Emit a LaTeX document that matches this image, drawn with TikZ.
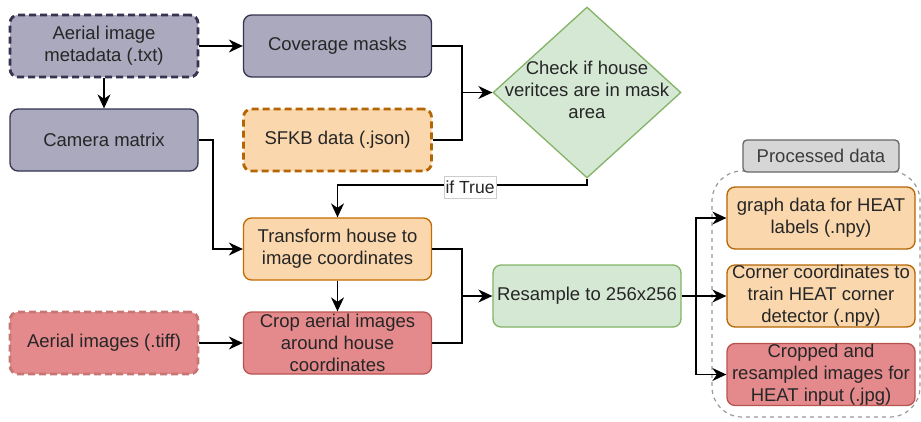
\documentclass[tikz,border=0pt]{standalone}
\usepackage{fontspec}
\setmainfont{Liberation Sans}
\usetikzlibrary{shapes.geometric,arrows.meta}
\definecolor{purfill}{HTML}{AAA9BE}
\definecolor{purdraw}{HTML}{35334F}
\definecolor{orfill}{HTML}{FAD7AC}
\definecolor{ordraw}{HTML}{B46504}
\definecolor{redfill}{HTML}{E48A8C}
\definecolor{reddraw}{HTML}{B85450}
\definecolor{grfill}{HTML}{D5E8D4}
\definecolor{grdraw}{HTML}{82B366}
\definecolor{txtcol}{HTML}{262626}
\begin{document}
\begin{tikzpicture}[x=1pt,y=-1pt,
  every node/.style={font=\fontsize{18.5}{22}\selectfont, text=txtcol},
  box/.style={rectangle, rounded corners=8, minimum width=188, minimum height=62, inner sep=0, align=center, line width=1.3},
  pur/.style={box, fill=purfill, draw=purdraw},
  org/.style={box, fill=orfill, draw=ordraw},
  rd/.style={box, fill=redfill, draw=reddraw},
  grn/.style={box, fill=grfill, draw=grdraw},
  dsh/.style={line width=2.8, dash pattern=on 7pt off 4pt},
  arr/.style={line width=1.4, -{Stealth[length=14pt, width=13pt, inset=4.5pt]}},
  ln/.style={line width=1.4},
]
\useasboundingbox (0,0) rectangle (921,421);

% container
\node[draw=gray!80, line width=1.2, dash pattern=on 4pt off 4pt, rounded corners=30, minimum width=208, minimum height=246, inner sep=0] (grp) at (816,294) {};
\node[rectangle, rounded corners=4, fill=gray!32, draw=gray!80!black, line width=1.3, minimum width=156, minimum height=32, inner sep=0, text=txtcol!90] (pd) at (821,156) {Processed data};

% nodes
\node[pur, dsh] (meta) at (104,46) {Aerial image\\metadata (.txt)};
\node[pur] (cov) at (337.5,46) {Coverage masks};
\node[pur] (cam) at (104,140) {Camera matrix};
\node[org, dsh] (sfkb) at (337.5,140) {SFKB data (.json)};
\node[diamond, fill=grfill, draw=grdraw, line width=1.3, minimum width=188, minimum height=171, inner sep=0] (chk) at (587,92.5) {};
\node[align=center, inner sep=0] (chktxt) at (587,90) {Check if house\\veritces are in mask\\area};
\node[org, draw=ordraw!80!orange] (tr) at (337.5,249) {Transform house to\\image coordinates};
\node[rd] (crop) at (337.5,343) {Crop aerial images\\around house\\coordinates};
\node[rd, draw=reddraw!80, dsh] (aimg) at (104,343) {Aerial images (.tiff)};
\node[grn] (rs) at (587,296) {Resample to 256x256};
\node[org] (o1) at (821,218) {graph data for HEAT\\labels (.npy)};
\node[org] (o2) at (821,296) {Corner coordinates to\\train HEAT corner\\detector (.npy)};
\node[rd] (o3) at (821,374.5) {Cropped and\\resampled images for\\HEAT input (.jpg)};

% junctions
\coordinate (j1) at (462,92.5);
\coordinate (j2) at (213,249);
\coordinate (j3) at (462,296);
\coordinate (j4) at (587,185);
\coordinate (j5) at (696,296);

% connectors
\draw[arr] (meta.east) -- (cov.west);
\draw[arr] (meta.south) -- (cam.north);
\draw[arr] (cov.east) -| (j1) -- (chk.west);
\draw[ln] (sfkb.east) -| (j1);
\draw[arr] (cam.east) -| (j2) -- (tr.west);
\draw[arr] (chk.south) -- (j4) -| (tr.north);
\node[draw=gray!40, fill=white, line width=0.8, inner sep=1.5, minimum height=22, font=\fontsize{17.5}{20}\selectfont] (iftrue) at (470,187) {if True};
\draw[arr] (tr.south) -- (crop.north);
\draw[arr] (aimg.east) -- (crop.west);
\draw[arr] (tr.east) -| (j3) -- (rs.west);
\draw[ln] (crop.east) -| (j3);
\draw[ln] (rs.east) -- (j5);
\draw[arr] (j5) |- (o1.west);
\draw[arr] (j5) -- (o2.west);
\draw[arr] (j5) |- (o3.west);
\end{tikzpicture}
\end{document}
